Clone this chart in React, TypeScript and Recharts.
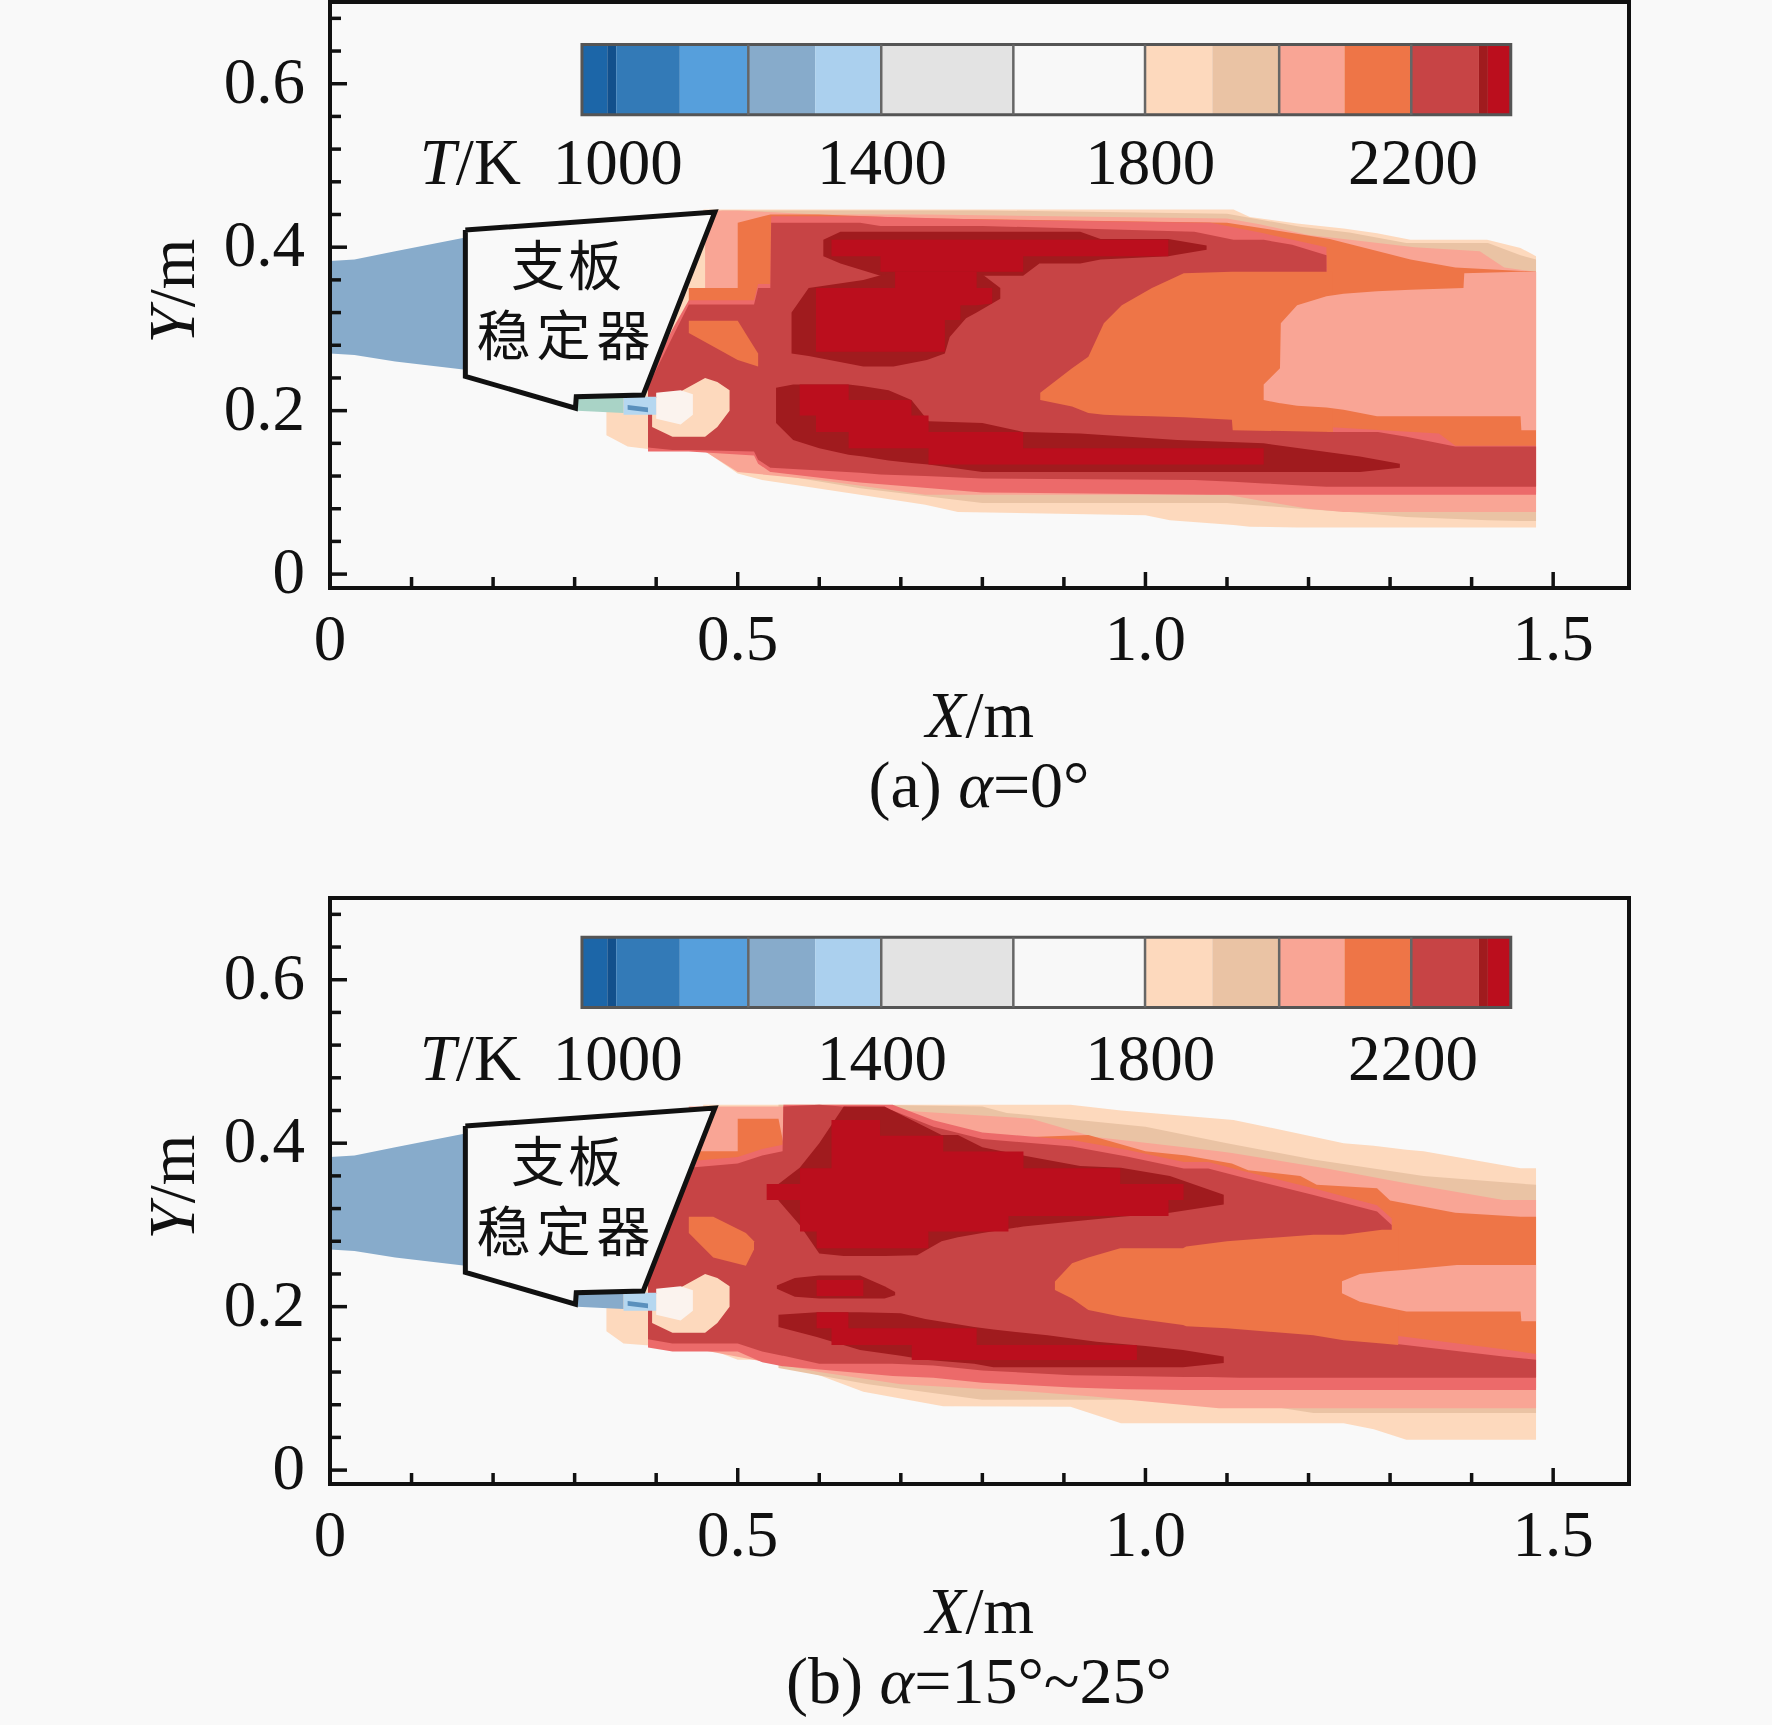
import React from 'react';
import { Area, ComposedChart, Line, ReferenceArea, ReferenceDot, ReferenceLine, XAxis, YAxis } from 'recharts';

const SERIF = '"Liberation Serif", "Times New Roman", serif';
const CJK = '"Noto Sans CJK SC", sans-serif';

const xDomain = [0, 1.593];
const yDomain = [-0.017, 0.7];
const xTicks = [0, 0.1, 0.2, 0.3, 0.4, 0.5, 0.6, 0.7, 0.8, 0.9, 1.0, 1.1, 1.2, 1.3, 1.4, 1.5];
const yTicks = [0, 0.04, 0.08, 0.12, 0.16, 0.2, 0.24, 0.28, 0.32, 0.36, 0.4, 0.44, 0.48, 0.52, 0.56, 0.6, 0.64, 0.68];
const xMajor: Record<string, string> = { '0': '0', '0.5': '0.5', '1': '1.0', '1.5': '1.5' };
const yMajor: Record<string, string> = { '0': '0', '0.2': '0.2', '0.4': '0.4', '0.6': '0.6' };

// colour levels
const C_PEACH = '#fdd9bd';
const C_TAN = '#eac3a4';
const C_SALMON = '#f9a595';
const C_ORANGE = '#ee7547';
const C_PINK = '#ec6a6a';
const C_RED = '#c74445';
const C_DARK = '#a01b1e';
const C_CRIMSON = '#bb0e1d';
const C_INLET = '#87abcb';
const C_BG = '#f9f9f9';

// colour bar
const barEdges = [0.309, 0.34, 0.351, 0.429, 0.513, 0.595, 0.676, 0.838, 0.9995, 1.082, 1.164, 1.244, 1.326, 1.409, 1.42, 1.448];
const barColors = ['#1c66a8', '#12508c', '#337ab7', '#569fdc', '#87abcb', '#abd0ee', '#e3e3e3', '#f8f8f8', C_PEACH, C_TAN, C_SALMON, C_ORANGE, C_RED, C_DARK, C_CRIMSON];
const barLines = [0.513, 0.676, 0.838, 0.9995, 1.164, 1.326];
const barLabels = ['1000', '1400', '1800', '2200'];
const barLabelX = [0.353, 0.677, 1.006, 1.328];

// stabiliser outline and inlet (x, y)
const strutOutline = [[0.166, 0.421], [0.472, 0.443], [0.384, 0.219], [0.302, 0.217], [0.301, 0.203], [0.166, 0.242], [0.166, 0.421]];
const strutFill = [[0.166, 0.242, 0.421], [0.301, 0.203, 0.4345], [0.302, 0.217, 0.4346], [0.384, 0.219, 0.4367], [0.472, 0.443, 0.443]];
const inlet = [[0, 0.27, 0.383], [0.03, 0.268, 0.385], [0.08, 0.26, 0.395], [0.166, 0.25, 0.412]];

// small wake features under the stabiliser (x, lo, hi)
const paleOuter = [[0.395, 0.18, 0.215], [0.42, 0.168, 0.218], [0.46, 0.168, 0.24], [0.475, 0.18, 0.235], [0.49, 0.2, 0.225]];
const paleInner = [[0.4, 0.19, 0.222], [0.43, 0.183, 0.225], [0.445, 0.195, 0.22]];
const wakeTeal = [[0.303, 0.2, 0.216], [0.36, 0.197, 0.217]];
const wakeBlue = [[0.36, 0.195, 0.217], [0.4, 0.195, 0.217]];
const wakeDeep = [[0.365, 0.201, 0.207], [0.39, 0.198, 0.204]];

// (a) contour bands: x, lo, hi
const a_peach = [[0.339, 0.17, 0.2], [0.365, 0.156, 0.22], [0.4, 0.152, 0.3], [0.458, 0.152, 0.446], [0.5, 0.123, 0.446], [0.53, 0.115, 0.446], [0.65, 0.097, 0.446], [0.73, 0.085, 0.446], [0.77, 0.076, 0.446], [1.0, 0.072, 0.446], [1.03, 0.066, 0.446], [1.108, 0.06, 0.446], [1.128, 0.058, 0.437], [1.186, 0.057, 0.429], [1.243, 0.057, 0.423], [1.284, 0.057, 0.417], [1.325, 0.057, 0.409], [1.419, 0.057, 0.409], [1.46, 0.057, 0.399], [1.479, 0.057, 0.389]];
const a_tan = [[0.48, 0.145, 0.445], [0.5, 0.13, 0.445], [0.65, 0.105, 0.445], [0.8, 0.087, 0.445], [1.1, 0.087, 0.441], [1.19, 0.08, 0.425], [1.25, 0.076, 0.418], [1.32, 0.07, 0.405], [1.42, 0.066, 0.405], [1.46, 0.065, 0.39], [1.479, 0.065, 0.385]];
const a_salmon = [[0.46, 0.15, 0.445], [0.5, 0.125, 0.445], [0.6, 0.115, 0.44], [0.73, 0.097, 0.44], [1.1, 0.097, 0.435], [1.14, 0.09, 0.428], [1.2, 0.08, 0.415], [1.243, 0.076, 0.41], [1.33, 0.076, 0.4], [1.41, 0.076, 0.395], [1.44, 0.076, 0.375], [1.479, 0.076, 0.37]];
const a_orange = [[0.44, 0.2, 0.35], [0.5, 0.2, 0.35], [0.5, 0.2, 0.43], [0.54, 0.2, 0.44], [0.6, 0.125, 0.44], [0.73, 0.11, 0.435], [1.1, 0.105, 0.43], [1.226, 0.1, 0.41], [1.325, 0.1, 0.385], [1.38, 0.1, 0.375], [1.479, 0.1, 0.37]];
const a_pink = [[0.39, 0.15, 0.24], [0.42, 0.15, 0.3], [0.44, 0.15, 0.335], [0.52, 0.145, 0.335], [0.525, 0.135, 0.355], [0.54, 0.125, 0.355], [0.541, 0.125, 0.438], [0.65, 0.112, 0.438], [0.8, 0.1, 0.434], [1.08, 0.097, 0.43], [1.145, 0.097, 0.417], [1.222, 0.097, 0.4], [1.223, 0.097, 0.18], [1.36, 0.097, 0.172], [1.38, 0.097, 0.157], [1.479, 0.097, 0.157]];
const a_red = [[0.39, 0.155, 0.23], [0.42, 0.152, 0.29], [0.44, 0.152, 0.33], [0.52, 0.15, 0.33], [0.525, 0.14, 0.35], [0.54, 0.13, 0.35], [0.541, 0.13, 0.43], [0.65, 0.124, 0.43], [0.675, 0.122, 0.426], [0.73, 0.12, 0.426], [0.8, 0.117, 0.426], [1.06, 0.115, 0.419], [1.108, 0.113, 0.409], [1.145, 0.111, 0.409], [1.18, 0.109, 0.403], [1.222, 0.107, 0.39], [1.223, 0.107, 0.174], [1.285, 0.107, 0.174], [1.32, 0.107, 0.168], [1.38, 0.107, 0.156], [1.479, 0.107, 0.156]];
const a_dark1 = [[0.605, 0.389, 0.409], [0.626, 0.38, 0.419], [0.675, 0.365, 0.419], [0.85, 0.365, 0.419], [0.87, 0.38, 0.419], [0.92, 0.38, 0.419], [0.945, 0.385, 0.41], [1.028, 0.389, 0.41], [1.075, 0.397, 0.402]];
const a_dark2 = [[0.566, 0.27, 0.32], [0.587, 0.267, 0.35], [0.654, 0.254, 0.36], [0.691, 0.254, 0.37], [0.732, 0.262, 0.372], [0.754, 0.27, 0.372], [0.76, 0.29, 0.372], [0.78, 0.313, 0.372], [0.793, 0.32, 0.372], [0.822, 0.337, 0.35]];
const a_dark3 = [[0.547, 0.185, 0.228], [0.568, 0.164, 0.232], [0.6, 0.154, 0.232], [0.636, 0.146, 0.232], [0.654, 0.144, 0.23], [0.685, 0.139, 0.225], [0.713, 0.136, 0.213], [0.734, 0.134, 0.187], [0.8, 0.125, 0.185], [0.85, 0.125, 0.174], [0.92, 0.125, 0.172], [1.039, 0.125, 0.164], [1.145, 0.125, 0.16], [1.263, 0.125, 0.144], [1.312, 0.13, 0.135]];
const a_crimson1 = [[0.615, 0.389, 0.409], [0.675, 0.389, 0.409], [0.675, 0.37, 0.409], [0.85, 0.37, 0.409], [0.85, 0.389, 0.409], [1.028, 0.389, 0.409]];
const a_crimson2 = [[0.596, 0.272, 0.35], [0.693, 0.272, 0.35], [0.693, 0.272, 0.37], [0.754, 0.272, 0.37], [0.754, 0.311, 0.37], [0.773, 0.311, 0.37], [0.773, 0.329, 0.37], [0.793, 0.329, 0.37], [0.793, 0.329, 0.35], [0.812, 0.331, 0.35]];
const a_crimson3 = [[0.576, 0.194, 0.232], [0.596, 0.194, 0.232], [0.596, 0.174, 0.232], [0.636, 0.174, 0.232], [0.636, 0.154, 0.213], [0.713, 0.154, 0.213], [0.713, 0.154, 0.194], [0.734, 0.154, 0.194], [0.734, 0.134, 0.174], [0.85, 0.134, 0.174], [0.85, 0.134, 0.154], [1.145, 0.134, 0.154]];
const a_coreOrange = [[0.871, 0.213, 0.222], [0.91, 0.205, 0.252], [0.93, 0.197, 0.266], [0.949, 0.195, 0.307], [0.971, 0.194, 0.329], [1.008, 0.193, 0.35], [1.047, 0.192, 0.368], [1.106, 0.189, 0.37], [1.107, 0.176, 0.37], [1.23, 0.174, 0.37]];
const a_coreSalmon = [[1.145, 0.213, 0.232], [1.165, 0.209, 0.252], [1.166, 0.209, 0.307], [1.186, 0.206, 0.329], [1.222, 0.204, 0.34], [1.243, 0.201, 0.343], [1.284, 0.193, 0.346], [1.325, 0.193, 0.348], [1.39, 0.193, 0.35], [1.391, 0.193, 0.368], [1.46, 0.193, 0.37], [1.461, 0.176, 0.37], [1.479, 0.176, 0.37]];
const a_blob = [[0.44, 0.295, 0.31], [0.5, 0.262, 0.31], [0.525, 0.254, 0.27]];

// (b) contour bands: x, lo, hi
const b_peach = [[0.339, 0.17, 0.2], [0.36, 0.155, 0.22], [0.4, 0.152, 0.3], [0.458, 0.151, 0.447], [0.5, 0.135, 0.447], [0.527, 0.135, 0.447], [0.6, 0.116, 0.447], [0.654, 0.096, 0.447], [0.752, 0.078, 0.447], [0.908, 0.0775, 0.447], [0.97, 0.0573, 0.44], [1.108, 0.0573, 0.4285], [1.206, 0.0573, 0.408], [1.243, 0.0573, 0.4], [1.28, 0.05, 0.397], [1.32, 0.037, 0.392], [1.341, 0.037, 0.39], [1.46, 0.037, 0.3694], [1.479, 0.037, 0.3694]];
const b_tan = [[0.55, 0.125, 0.447], [0.66, 0.105, 0.447], [0.8, 0.086, 0.445], [0.83, 0.086, 0.437], [1.0, 0.086, 0.42], [1.1, 0.086, 0.4], [1.206, 0.07, 0.38], [1.341, 0.07, 0.36], [1.479, 0.07, 0.349]];
const b_salmon = [[0.44, 0.15, 0.445], [0.6, 0.12, 0.445], [0.7, 0.105, 0.44], [0.86, 0.096, 0.43], [0.936, 0.09, 0.408], [1.09, 0.0756, 0.39], [1.106, 0.0756, 0.388], [1.222, 0.0756, 0.369], [1.32, 0.0756, 0.351], [1.439, 0.0756, 0.3306], [1.479, 0.0756, 0.3306]];
const b_orange = [[0.45, 0.2, 0.39], [0.5, 0.2, 0.39], [0.5, 0.2, 0.43], [0.55, 0.2, 0.43], [0.556, 0.15, 0.4], [0.65, 0.125, 0.4], [0.93, 0.105, 0.41], [1.0, 0.1, 0.39], [1.05, 0.1, 0.385], [1.106, 0.1, 0.375], [1.126, 0.1, 0.367], [1.19, 0.1, 0.36], [1.21, 0.1, 0.349], [1.284, 0.1, 0.345], [1.3, 0.1, 0.33], [1.38, 0.1, 0.315], [1.46, 0.1, 0.31], [1.479, 0.1, 0.31]];
const b_pink = [[0.39, 0.15, 0.24], [0.42, 0.145, 0.318], [0.44, 0.145, 0.378], [0.5, 0.145, 0.383], [0.53, 0.132, 0.393], [0.555, 0.127, 0.398], [0.556, 0.127, 0.447], [0.69, 0.115, 0.447], [0.74, 0.113, 0.428], [0.8, 0.107, 0.413], [0.91, 0.101, 0.404], [0.977, 0.099, 0.392], [1.047, 0.098, 0.377], [1.077, 0.098, 0.377], [1.116, 0.098, 0.367], [1.206, 0.098, 0.345], [1.284, 0.098, 0.324], [1.302, 0.098, 0.308], [1.303, 0.098, 0.165], [1.439, 0.098, 0.148], [1.479, 0.098, 0.142]];
const b_red = [[0.39, 0.16, 0.23], [0.42, 0.155, 0.31], [0.44, 0.155, 0.37], [0.5, 0.155, 0.375], [0.53, 0.145, 0.385], [0.555, 0.14, 0.39], [0.556, 0.14, 0.445], [0.6, 0.13, 0.447], [0.69, 0.13, 0.44], [0.74, 0.128, 0.42], [0.8, 0.122, 0.405], [0.91, 0.116, 0.396], [0.977, 0.115, 0.3837], [1.047, 0.114, 0.369], [1.077, 0.114, 0.369], [1.116, 0.113, 0.359], [1.206, 0.113, 0.3367], [1.284, 0.113, 0.3163], [1.302, 0.113, 0.3], [1.303, 0.113, 0.155], [1.439, 0.113, 0.139], [1.479, 0.113, 0.135]];
const b_dark1 = [[0.55, 0.33, 0.35], [0.576, 0.3, 0.37], [0.6, 0.265, 0.4], [0.63, 0.262, 0.445], [0.68, 0.262, 0.445], [0.72, 0.263, 0.425], [0.75, 0.28, 0.41], [0.77, 0.285, 0.41], [0.8, 0.29, 0.395], [0.85, 0.298, 0.385], [0.92, 0.305, 0.372], [0.97, 0.31, 0.37], [1.03, 0.315, 0.36], [1.096, 0.325, 0.337]];
const b_dark2 = [[0.548, 0.222, 0.226], [0.57, 0.212, 0.235], [0.6, 0.21, 0.238], [0.65, 0.21, 0.238], [0.68, 0.21, 0.225], [0.693, 0.214, 0.218]];
const b_dark3 = [[0.55, 0.175, 0.19], [0.597, 0.163, 0.193], [0.65, 0.147, 0.193], [0.7, 0.14, 0.192], [0.73, 0.135, 0.185], [0.79, 0.13, 0.175], [0.8136, 0.1258, 0.172], [0.88, 0.1258, 0.165], [0.94, 0.1258, 0.157], [1.0, 0.1258, 0.152], [1.046, 0.1258, 0.147], [1.096, 0.131, 0.139]];
const b_crimson1 = [[0.5355, 0.3306, 0.3502], [0.5764, 0.3306, 0.3502], [0.5764, 0.2919, 0.3694], [0.5968, 0.2919, 0.3694], [0.5968, 0.2715, 0.3694], [0.615, 0.2715, 0.3694], [0.615, 0.2715, 0.4285], [0.6745, 0.2715, 0.4285], [0.6745, 0.2715, 0.409], [0.7338, 0.2715, 0.409], [0.7338, 0.2919, 0.409], [0.752, 0.2919, 0.409], [0.752, 0.2919, 0.3898], [0.832, 0.2919, 0.3898], [0.832, 0.311, 0.3898], [0.8504, 0.311, 0.3898], [0.8504, 0.311, 0.3694], [0.969, 0.311, 0.3694], [0.969, 0.311, 0.3502], [1.0283, 0.311, 0.3502], [1.0283, 0.3306, 0.3502], [1.0467, 0.3306, 0.3502]];
const b_crimson2 = [[0.5968, 0.213, 0.2327], [0.654, 0.213, 0.2327]];
const b_crimson3 = [[0.5968, 0.1735, 0.193], [0.615, 0.1735, 0.193], [0.615, 0.153, 0.193], [0.6357, 0.153, 0.193], [0.6357, 0.153, 0.1735], [0.7134, 0.153, 0.1735], [0.7134, 0.1348, 0.1735], [0.793, 0.1348, 0.1735], [0.793, 0.1348, 0.153], [0.9895, 0.1348, 0.153]];
const b_coreOrange = [[0.889, 0.2205, 0.2307], [0.91, 0.21, 0.253], [0.93, 0.196, 0.26], [0.969, 0.188, 0.2715], [1.046, 0.1776, 0.2715], [1.05, 0.176, 0.2735], [1.1, 0.1735, 0.28], [1.206, 0.165, 0.288], [1.243, 0.159, 0.288], [1.29, 0.155, 0.294], [1.31, 0.153, 0.294]];
const b_coreSalmon = [[1.241, 0.2165, 0.231], [1.263, 0.206, 0.24], [1.292, 0.2, 0.243], [1.32, 0.194, 0.245], [1.382, 0.194, 0.251], [1.46, 0.194, 0.251], [1.461, 0.182, 0.251], [1.479, 0.182, 0.251]];
const b_blob = [[0.44, 0.29, 0.31], [0.47, 0.26, 0.31], [0.51, 0.25, 0.29], [0.52, 0.27, 0.28]];

const wakeBands = [[C_PEACH, paleOuter], ['#fbf3ee', paleInner], ['#b5d7f0', wakeBlue], ['#5a90bd', wakeDeep]];

const bandsA: any[] = [
  [C_PEACH, a_peach], [C_TAN, a_tan], [C_SALMON, a_salmon], [C_ORANGE, a_orange], [C_PINK, a_pink], [C_RED, a_red],
  [C_DARK, a_dark1], [C_DARK, a_dark2], [C_DARK, a_dark3], [C_CRIMSON, a_crimson1], [C_CRIMSON, a_crimson2], [C_CRIMSON, a_crimson3],
  [C_ORANGE, a_coreOrange], [C_SALMON, a_coreSalmon], [C_ORANGE, a_blob], ['#a9d3c6', wakeTeal], ...wakeBands,
  [C_INLET, inlet], [C_BG, strutFill],
];
const bandsB: any[] = [
  [C_PEACH, b_peach], [C_TAN, b_tan], [C_SALMON, b_salmon], [C_ORANGE, b_orange], [C_PINK, b_pink], [C_RED, b_red],
  [C_DARK, b_dark1], [C_DARK, b_dark2], [C_DARK, b_dark3], [C_CRIMSON, b_crimson1], [C_CRIMSON, b_crimson2], [C_CRIMSON, b_crimson3],
  [C_ORANGE, b_coreOrange], [C_SALMON, b_coreSalmon], [C_ORANGE, b_blob], [C_INLET, wakeTeal], ...wakeBands,
  [C_INLET, inlet], [C_BG, strutFill],
];

const toRows = (rows: number[][]) => rows.map(([x, lo, hi]) => ({ x, band: [lo, hi] }));
const toPoints = (rows: number[][]) => rows.map(([x, y]) => ({ x, y }));

const textStyle = { fontFamily: SERIF, fontSize: 65, fill: '#111' };

function XTick({ x, y, payload }: any) {
  const label = xMajor[String(payload.value)];
  return (
    <g>
      <line x1={x} x2={x} y1={y} y2={y - (label ? 16 : 11)} stroke="#111" strokeWidth={3.5} />
      {label && <text x={x} y={y + 72} textAnchor="middle" {...textStyle}>{label}</text>}
    </g>
  );
}

function YTick({ x, y, payload }: any) {
  const label = yMajor[String(payload.value)];
  return (
    <g>
      <line x1={x} x2={x + (label ? 17 : 11)} y1={y} y2={y} stroke="#111" strokeWidth={3.5} />
      {label && <text x={x - 25} y={y + 19} textAnchor="end" {...textStyle}>{label}</text>}
    </g>
  );
}

function Plot({ bands, caption, barLow, barHigh }: { bands: any[]; caption: React.ReactNode; barLow: number; barHigh: number }) {
  return (
    <ComposedChart width={1772} height={860} margin={{ top: 2, right: 143, bottom: 172, left: 230 }}>
      {bands.map(([color, rows], i) => (
        <Area
          key={i}
          data={toRows(rows)}
          dataKey="band"
          type="linear"
          fill={color}
          fillOpacity={1}
          stroke="none"
          dot={false}
          activeDot={false}
          isAnimationActive={false}
        />
      ))}
      <Line data={toPoints(strutOutline)} dataKey="y" type="linear" stroke="#111" strokeWidth={5} dot={false} activeDot={false} isAnimationActive={false} />
      {barColors.map((color, i) => (
        <ReferenceArea key={i} x1={barEdges[i]} x2={barEdges[i + 1]} y1={barLow} y2={barHigh} fill={color} fillOpacity={1} stroke="none" />
      ))}
      {barLines.map(v => (
        <ReferenceLine key={v} segment={[{ x: v, y: barLow }, { x: v, y: barHigh }]} stroke="#666" strokeWidth={2.5} />
      ))}
      <ReferenceArea x1={0.309} x2={1.448} y1={barLow} y2={barHigh} fill="none" stroke="#555" strokeWidth={3} />
      {barLabels.map((label, i) => (
        <ReferenceDot
          key={label}
          x={barLabelX[i]}
          y={0.502}
          r={0}
          shape={({ cx, cy }: any) => <text x={cx} y={cy + 20} textAnchor="middle" {...textStyle}>{label}</text>}
        />
      ))}
      <ReferenceDot
        x={0.172}
        y={0.502}
        r={0}
        shape={({ cx, cy }: any) => (
          <text x={cx} y={cy + 20} textAnchor="middle" {...textStyle}>
            <tspan fontStyle="italic">T</tspan>/K
          </text>
        )}
      />
      <ReferenceDot
        x={0.292}
        y={0.376}
        r={0}
        shape={({ cx, cy }: any) => (
          <text x={cx} y={cy + 19} textAnchor="middle" fontFamily={CJK} fontSize={54} fill="#111" letterSpacing={3}>支板</text>
        )}
      />
      <ReferenceDot
        x={0.29}
        y={0.29}
        r={0}
        shape={({ cx, cy }: any) => (
          <text x={cx} y={cy + 19} textAnchor="middle" fontFamily={CJK} fontSize={54} fill="#111" letterSpacing={6}>稳定器</text>
        )}
      />
      <ReferenceArea x1={0} x2={1.593} y1={-0.017} y2={0.7} fill="none" stroke="#111" strokeWidth={4} />
      <XAxis
        dataKey="x"
        type="number"
        domain={xDomain}
        ticks={xTicks}
        interval={0}
        allowDataOverflow
        height={100}
        tickSize={0}
        tickMargin={0}
        tickLine={false}
        axisLine={{ stroke: '#111', strokeWidth: 4 }}
        tick={<XTick />}
      />
      <YAxis
        type="number"
        domain={yDomain}
        ticks={yTicks}
        interval={0}
        allowDataOverflow
        width={100}
        tickSize={0}
        tickMargin={0}
        tickLine={false}
        axisLine={{ stroke: '#111', strokeWidth: 4 }}
        tick={<YTick />}
      />
      <text x={980} y={737} textAnchor="middle" {...textStyle}>
        <tspan fontStyle="italic">X</tspan>/m
      </text>
      <text transform="translate(194,291) rotate(-90)" textAnchor="middle" {...textStyle}>
        <tspan fontStyle="italic">Y</tspan>/m
      </text>
      <text x={979} y={807} textAnchor="middle" fontFamily={SERIF} fontSize={66} fill="#111">{caption}</text>
    </ComposedChart>
  );
}

export default function App() {
  return (
    <div style={{ position: 'absolute', left: 0, top: 0, width: 1772, height: 1725, overflow: 'hidden', background: C_BG }}>
      <div style={{ position: 'absolute', left: 0, top: 0 }}>
        <Plot bands={bandsA} barLow={0.562} barHigh={0.648} caption={<>(a) <tspan fontStyle="italic">α</tspan>=0°</>} />
      </div>
      <div style={{ position: 'absolute', left: 0, top: 896 }}>
        <Plot bands={bandsB} barLow={0.566} barHigh={0.652} caption={<>(b) <tspan fontStyle="italic">α</tspan>=15°~25°</>} />
      </div>
    </div>
  );
}
